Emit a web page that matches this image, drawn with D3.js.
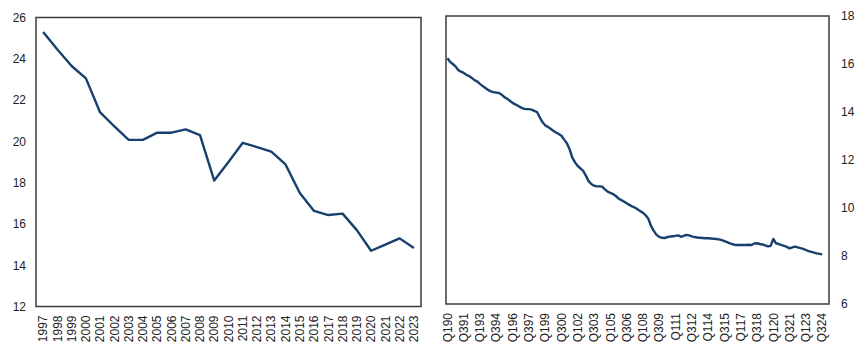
<!DOCTYPE html>
<html>
<head>
<meta charset="utf-8">
<script src="https://cdn.jsdelivr.net/npm/d3@7"></script>
<style>
  html, body { margin: 0; padding: 0; background: #fff; }
  svg { display: block; }
  .tick text { font-family: "Liberation Sans", Arial, sans-serif; font-size: 12px; fill: #222; }
</style>
</head>
<body>
<svg id="chart" width="865" height="357"></svg>
<script>
// ---- Left panel: annual data ----
const years = [1997,1998,1999,2000,2001,2002,2003,2004,2005,2006,2007,2008,2009,2010,
  2011,2012,2013,2014,2015,2016,2017,2018,2019,2020,2021,2022,2023];
const annualValues = [25.3,24.45,23.65,23.05,21.4,20.72,20.07,20.07,20.42,20.42,20.58,20.3,18.1,
  19.0,19.93,19.72,19.5,18.88,17.5,16.63,16.43,16.5,15.7,14.7,15.0,15.3,14.83];
const leftYTicks = [12,14,16,18,20,22,24,26];

// ---- Right panel: quarterly data, Q1 1990 .. Q3 2024 ----
const quarterlyValues = [
  16.24,16.09,16.0,15.9,      // 1990
  15.75,15.68,15.63,15.55,    // 1991
  15.5,15.42,15.33,15.27,     // 1992
  15.17,15.08,15.0,14.92,     // 1993
  14.86,14.83,14.81,14.79,    // 1994
  14.72,14.62,14.55,14.47,    // 1995
  14.38,14.32,14.26,14.19,    // 1996
  14.14,14.12,14.12,14.1,     // 1997
  14.05,14.0,13.78,13.58,     // 1998
  13.45,13.38,13.3,13.22,     // 1999
  13.15,13.08,13.01,12.85,    // 2000
  12.7,12.45,12.1,11.9,       // 2001
  11.75,11.65,11.55,11.35,    // 2002
  11.12,11.0,10.93,10.9,      // 2003
  10.9,10.89,10.78,10.68,     // 2004
  10.63,10.58,10.5,10.4,      // 2005
  10.33,10.27,10.2,10.13,     // 2006
  10.07,10.02,9.95,9.87,      // 2007
  9.8,9.7,9.55,9.25,          // 2008
  9.05,8.88,8.8,8.76,         // 2009
  8.75,8.79,8.81,8.82,        // 2010
  8.84,8.86,8.8,8.84,         // 2011
  8.88,8.86,8.82,8.79,        // 2012
  8.77,8.76,8.75,8.74,        // 2013
  8.74,8.73,8.72,8.71,        // 2014
  8.69,8.66,8.62,8.58,        // 2015
  8.53,8.49,8.46,8.46,        // 2016
  8.46,8.46,8.46,8.47,        // 2017
  8.46,8.52,8.53,8.5,         // 2018
  8.48,8.44,8.4,8.42,         // 2019
  8.71,8.53,8.5,8.45,         // 2020
  8.42,8.38,8.32,8.36,        // 2021
  8.39,8.36,8.33,8.3,         // 2022
  8.25,8.2,8.17,8.14,         // 2023
  8.11,8.09,8.07              // 2024
];
const quarterTickLabels = ["Q190","Q391","Q193","Q394","Q196","Q397","Q199","Q300","Q102","Q303",
  "Q105","Q306","Q108","Q309","Q111","Q312","Q114","Q315","Q117","Q318","Q120","Q321","Q123","Q324"];
const rightYTicks = [6,8,10,12,14,16,18];

// quarter category names (axis extends one quarter beyond the data, to Q1 2025)
const quarters = [];
for (let y = 1990; y <= 2025; y++) for (let q = 1; q <= 4; q++) {
  if (quarters.length < 141) quarters.push("Q" + q + String(y).slice(2));
}

const svg = d3.select("#chart");
const lineColor = "#17406e";
const frameColor = "#3a3a3a";

function styleXAxis(g) {
  g.select(".domain").remove();
  g.selectAll(".tick line").remove();
  g.selectAll(".tick text")
    .attr("transform", "rotate(-90)")
    .attr("text-anchor", "end")
    .attr("x", -9)
    .attr("y", 0)
    .attr("dy", "0.35em");
}

// ---------- Left panel ----------
{
  const L = {x0: 36, x1: 421, y0: 17.5, y1: 306.5};
  const x = d3.scaleBand().domain(years).range([L.x0, L.x1]);
  const y = d3.scaleLinear().domain([12, 26]).range([L.y1, L.y0]);

  svg.append("g").attr("transform", `translate(${L.x0},0)`)
    .call(d3.axisLeft(y).tickValues(leftYTicks).tickSize(0).tickPadding(10))
    .call(g => g.select(".domain").remove());

  svg.append("g").attr("transform", `translate(0,${L.y1})`)
    .call(d3.axisBottom(x).tickSize(0))
    .call(styleXAxis);

  svg.append("path")
    .datum(annualValues)
    .attr("fill", "none")
    .attr("stroke", lineColor)
    .attr("stroke-width", 2.4)
    .attr("stroke-linejoin", "round")
    .attr("d", d3.line().x((d, i) => x(years[i]) + x.bandwidth() / 2).y(d => y(d)));

  svg.append("rect")
    .attr("x", L.x0).attr("y", L.y0)
    .attr("width", L.x1 - L.x0).attr("height", L.y1 - L.y0)
    .attr("fill", "none").attr("stroke", frameColor).attr("stroke-width", 1.5);
}

// ---------- Right panel ----------
{
  const R = {x0: 446, x1: 829, y0: 16, y1: 304};
  const x = d3.scaleBand().domain(quarters).range([R.x0, R.x1]);
  const y = d3.scaleLinear().domain([6, 18]).range([R.y1, R.y0]);

  svg.append("g").attr("transform", `translate(${R.x1},0)`)
    .call(d3.axisRight(y).tickValues(rightYTicks).tickSize(0).tickPadding(12))
    .call(g => g.select(".domain").remove());

  svg.append("g").attr("transform", `translate(0,${R.y1})`)
    .call(d3.axisBottom(x).tickValues(quarterTickLabels).tickSize(0))
    .call(styleXAxis);

  svg.append("path")
    .datum(quarterlyValues)
    .attr("fill", "none")
    .attr("stroke", lineColor)
    .attr("stroke-width", 2.4)
    .attr("stroke-linejoin", "round")
    .attr("d", d3.line().x((d, i) => x(quarters[i]) + x.bandwidth() / 2).y(d => y(d)));

  svg.append("rect")
    .attr("x", R.x0).attr("y", R.y0)
    .attr("width", R.x1 - R.x0).attr("height", R.y1 - R.y0)
    .attr("fill", "none").attr("stroke", frameColor).attr("stroke-width", 1.5);
}
</script>
</body>
</html>
